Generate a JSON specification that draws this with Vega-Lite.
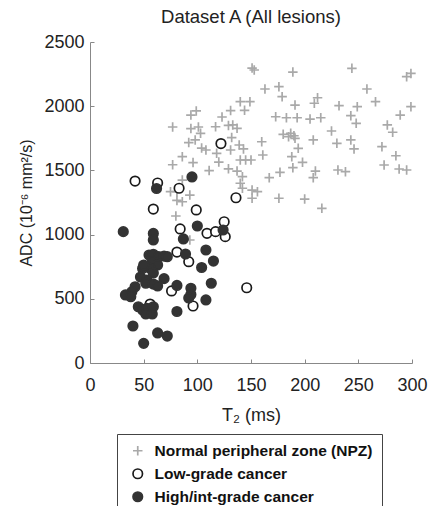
{
  "$schema": "https://vega.github.io/schema/vega-lite/v6.json",
  "width": 322,
  "height": 321,
  "autosize": {"type": "none"},
  "padding": {"left": 90, "top": 42, "right": 19, "bottom": 143},
  "background": "white",
  "title": {"text": "Dataset A (All lesions)", "fontSize": 18.5, "fontWeight": "normal", "font": "Liberation Sans", "color": "#222", "offset": 7, "anchor": "middle"},
  "config": {"view": {"stroke": null}, "font": "Liberation Sans"},
  "data": {"values": [
    {"g": "Normal peripheral zone (NPZ)", "t2": 151, "adc": 2297},
    {"g": "Normal peripheral zone (NPZ)", "t2": 153, "adc": 2282},
    {"g": "Normal peripheral zone (NPZ)", "t2": 189, "adc": 2266},
    {"g": "Normal peripheral zone (NPZ)", "t2": 244, "adc": 2295},
    {"g": "Normal peripheral zone (NPZ)", "t2": 295, "adc": 2230},
    {"g": "Normal peripheral zone (NPZ)", "t2": 299, "adc": 2255},
    {"g": "Normal peripheral zone (NPZ)", "t2": 163, "adc": 2134},
    {"g": "Normal peripheral zone (NPZ)", "t2": 176, "adc": 2152},
    {"g": "Normal peripheral zone (NPZ)", "t2": 179, "adc": 2074},
    {"g": "Normal peripheral zone (NPZ)", "t2": 191, "adc": 2009},
    {"g": "Normal peripheral zone (NPZ)", "t2": 212, "adc": 2066},
    {"g": "Normal peripheral zone (NPZ)", "t2": 209, "adc": 2023},
    {"g": "Normal peripheral zone (NPZ)", "t2": 232, "adc": 2004},
    {"g": "Normal peripheral zone (NPZ)", "t2": 258, "adc": 2134},
    {"g": "Normal peripheral zone (NPZ)", "t2": 266, "adc": 2035},
    {"g": "Normal peripheral zone (NPZ)", "t2": 249, "adc": 1996},
    {"g": "Normal peripheral zone (NPZ)", "t2": 299, "adc": 1996},
    {"g": "Normal peripheral zone (NPZ)", "t2": 173, "adc": 1918},
    {"g": "Normal peripheral zone (NPZ)", "t2": 183, "adc": 1910},
    {"g": "Normal peripheral zone (NPZ)", "t2": 193, "adc": 1910},
    {"g": "Normal peripheral zone (NPZ)", "t2": 205, "adc": 1900},
    {"g": "Normal peripheral zone (NPZ)", "t2": 215, "adc": 1910},
    {"g": "Normal peripheral zone (NPZ)", "t2": 243, "adc": 1926},
    {"g": "Normal peripheral zone (NPZ)", "t2": 248, "adc": 1867},
    {"g": "Normal peripheral zone (NPZ)", "t2": 289, "adc": 1931},
    {"g": "Normal peripheral zone (NPZ)", "t2": 277, "adc": 1854},
    {"g": "Normal peripheral zone (NPZ)", "t2": 282, "adc": 1797},
    {"g": "Normal peripheral zone (NPZ)", "t2": 225, "adc": 1807},
    {"g": "Normal peripheral zone (NPZ)", "t2": 180, "adc": 1781},
    {"g": "Normal peripheral zone (NPZ)", "t2": 187, "adc": 1789},
    {"g": "Normal peripheral zone (NPZ)", "t2": 190, "adc": 1770},
    {"g": "Normal peripheral zone (NPZ)", "t2": 185, "adc": 1762},
    {"g": "Normal peripheral zone (NPZ)", "t2": 191, "adc": 1750},
    {"g": "Normal peripheral zone (NPZ)", "t2": 160, "adc": 1723},
    {"g": "Normal peripheral zone (NPZ)", "t2": 208, "adc": 1737},
    {"g": "Normal peripheral zone (NPZ)", "t2": 230, "adc": 1711},
    {"g": "Normal peripheral zone (NPZ)", "t2": 243, "adc": 1737},
    {"g": "Normal peripheral zone (NPZ)", "t2": 246, "adc": 1667},
    {"g": "Normal peripheral zone (NPZ)", "t2": 272, "adc": 1685},
    {"g": "Normal peripheral zone (NPZ)", "t2": 285, "adc": 1614},
    {"g": "Normal peripheral zone (NPZ)", "t2": 194, "adc": 1672},
    {"g": "Normal peripheral zone (NPZ)", "t2": 161, "adc": 1620},
    {"g": "Normal peripheral zone (NPZ)", "t2": 188, "adc": 1607},
    {"g": "Normal peripheral zone (NPZ)", "t2": 198, "adc": 1563},
    {"g": "Normal peripheral zone (NPZ)", "t2": 189, "adc": 1521},
    {"g": "Normal peripheral zone (NPZ)", "t2": 177, "adc": 1485},
    {"g": "Normal peripheral zone (NPZ)", "t2": 210, "adc": 1495},
    {"g": "Normal peripheral zone (NPZ)", "t2": 208, "adc": 1443},
    {"g": "Normal peripheral zone (NPZ)", "t2": 231, "adc": 1503},
    {"g": "Normal peripheral zone (NPZ)", "t2": 238, "adc": 1490},
    {"g": "Normal peripheral zone (NPZ)", "t2": 274, "adc": 1542},
    {"g": "Normal peripheral zone (NPZ)", "t2": 288, "adc": 1511},
    {"g": "Normal peripheral zone (NPZ)", "t2": 295, "adc": 1503},
    {"g": "Normal peripheral zone (NPZ)", "t2": 167, "adc": 1443},
    {"g": "Normal peripheral zone (NPZ)", "t2": 156, "adc": 1334},
    {"g": "Normal peripheral zone (NPZ)", "t2": 176, "adc": 1283},
    {"g": "Normal peripheral zone (NPZ)", "t2": 200, "adc": 1277},
    {"g": "Normal peripheral zone (NPZ)", "t2": 216, "adc": 1205},
    {"g": "Normal peripheral zone (NPZ)", "t2": 140, "adc": 2035},
    {"g": "Normal peripheral zone (NPZ)", "t2": 149, "adc": 2035},
    {"g": "Normal peripheral zone (NPZ)", "t2": 144, "adc": 1968},
    {"g": "Normal peripheral zone (NPZ)", "t2": 131, "adc": 1966},
    {"g": "Normal peripheral zone (NPZ)", "t2": 123, "adc": 1916},
    {"g": "Normal peripheral zone (NPZ)", "t2": 94, "adc": 1931},
    {"g": "Normal peripheral zone (NPZ)", "t2": 99, "adc": 1963},
    {"g": "Normal peripheral zone (NPZ)", "t2": 77, "adc": 1838},
    {"g": "Normal peripheral zone (NPZ)", "t2": 94, "adc": 1826},
    {"g": "Normal peripheral zone (NPZ)", "t2": 101, "adc": 1838},
    {"g": "Normal peripheral zone (NPZ)", "t2": 103, "adc": 1789},
    {"g": "Normal peripheral zone (NPZ)", "t2": 117, "adc": 1840},
    {"g": "Normal peripheral zone (NPZ)", "t2": 129, "adc": 1850},
    {"g": "Normal peripheral zone (NPZ)", "t2": 137, "adc": 1828},
    {"g": "Normal peripheral zone (NPZ)", "t2": 133, "adc": 1854},
    {"g": "Normal peripheral zone (NPZ)", "t2": 92, "adc": 1717},
    {"g": "Normal peripheral zone (NPZ)", "t2": 98, "adc": 1737},
    {"g": "Normal peripheral zone (NPZ)", "t2": 104, "adc": 1674},
    {"g": "Normal peripheral zone (NPZ)", "t2": 108, "adc": 1659},
    {"g": "Normal peripheral zone (NPZ)", "t2": 132, "adc": 1756},
    {"g": "Normal peripheral zone (NPZ)", "t2": 139, "adc": 1698},
    {"g": "Normal peripheral zone (NPZ)", "t2": 143, "adc": 1667},
    {"g": "Normal peripheral zone (NPZ)", "t2": 131, "adc": 1659},
    {"g": "Normal peripheral zone (NPZ)", "t2": 118, "adc": 1633},
    {"g": "Normal peripheral zone (NPZ)", "t2": 86, "adc": 1607},
    {"g": "Normal peripheral zone (NPZ)", "t2": 77, "adc": 1544},
    {"g": "Normal peripheral zone (NPZ)", "t2": 96, "adc": 1561},
    {"g": "Normal peripheral zone (NPZ)", "t2": 120, "adc": 1565},
    {"g": "Normal peripheral zone (NPZ)", "t2": 129, "adc": 1512},
    {"g": "Normal peripheral zone (NPZ)", "t2": 137, "adc": 1495},
    {"g": "Normal peripheral zone (NPZ)", "t2": 140, "adc": 1581},
    {"g": "Normal peripheral zone (NPZ)", "t2": 145, "adc": 1581},
    {"g": "Normal peripheral zone (NPZ)", "t2": 150, "adc": 1581},
    {"g": "Normal peripheral zone (NPZ)", "t2": 111, "adc": 1499},
    {"g": "Normal peripheral zone (NPZ)", "t2": 142, "adc": 1451},
    {"g": "Normal peripheral zone (NPZ)", "t2": 140, "adc": 1400},
    {"g": "Normal peripheral zone (NPZ)", "t2": 142, "adc": 1361},
    {"g": "Normal peripheral zone (NPZ)", "t2": 151, "adc": 1347},
    {"g": "Normal peripheral zone (NPZ)", "t2": 151, "adc": 1283},
    {"g": "Normal peripheral zone (NPZ)", "t2": 86, "adc": 1425},
    {"g": "Normal peripheral zone (NPZ)", "t2": 75, "adc": 1334},
    {"g": "Normal peripheral zone (NPZ)", "t2": 81, "adc": 1334},
    {"g": "Normal peripheral zone (NPZ)", "t2": 93, "adc": 1308},
    {"g": "Normal peripheral zone (NPZ)", "t2": 81, "adc": 1266},
    {"g": "Normal peripheral zone (NPZ)", "t2": 86, "adc": 1256},
    {"g": "Normal peripheral zone (NPZ)", "t2": 80, "adc": 1145},
    {"g": "Normal peripheral zone (NPZ)", "t2": 93, "adc": 958},
    {"g": "Low-grade cancer", "t2": 42, "adc": 1417},
    {"g": "Low-grade cancer", "t2": 63, "adc": 1402},
    {"g": "Low-grade cancer", "t2": 59, "adc": 1199},
    {"g": "Low-grade cancer", "t2": 83, "adc": 1361},
    {"g": "Low-grade cancer", "t2": 84, "adc": 1044},
    {"g": "Low-grade cancer", "t2": 81, "adc": 864},
    {"g": "Low-grade cancer", "t2": 92, "adc": 789},
    {"g": "Low-grade cancer", "t2": 99, "adc": 1192},
    {"g": "Low-grade cancer", "t2": 76, "adc": 561},
    {"g": "Low-grade cancer", "t2": 96, "adc": 444},
    {"g": "Low-grade cancer", "t2": 56, "adc": 459},
    {"g": "Low-grade cancer", "t2": 136, "adc": 1287},
    {"g": "Low-grade cancer", "t2": 109, "adc": 1010},
    {"g": "Low-grade cancer", "t2": 117, "adc": 1023},
    {"g": "Low-grade cancer", "t2": 125, "adc": 1100},
    {"g": "Low-grade cancer", "t2": 126, "adc": 984},
    {"g": "Low-grade cancer", "t2": 146, "adc": 586},
    {"g": "Low-grade cancer", "t2": 122, "adc": 1709},
    {"g": "High/int-grade cancer", "t2": 31, "adc": 1023},
    {"g": "High/int-grade cancer", "t2": 62, "adc": 1359},
    {"g": "High/int-grade cancer", "t2": 95, "adc": 1449},
    {"g": "High/int-grade cancer", "t2": 59, "adc": 1009},
    {"g": "High/int-grade cancer", "t2": 59, "adc": 958},
    {"g": "High/int-grade cancer", "t2": 87, "adc": 966},
    {"g": "High/int-grade cancer", "t2": 100, "adc": 1067},
    {"g": "High/int-grade cancer", "t2": 124, "adc": 1036},
    {"g": "High/int-grade cancer", "t2": 55, "adc": 841},
    {"g": "High/int-grade cancer", "t2": 59, "adc": 847},
    {"g": "High/int-grade cancer", "t2": 64, "adc": 828},
    {"g": "High/int-grade cancer", "t2": 69, "adc": 833},
    {"g": "High/int-grade cancer", "t2": 72, "adc": 828},
    {"g": "High/int-grade cancer", "t2": 58, "adc": 789},
    {"g": "High/int-grade cancer", "t2": 63, "adc": 763},
    {"g": "High/int-grade cancer", "t2": 56, "adc": 738},
    {"g": "High/int-grade cancer", "t2": 59, "adc": 701},
    {"g": "High/int-grade cancer", "t2": 49, "adc": 736},
    {"g": "High/int-grade cancer", "t2": 47, "adc": 670},
    {"g": "High/int-grade cancer", "t2": 53, "adc": 646},
    {"g": "High/int-grade cancer", "t2": 89, "adc": 849},
    {"g": "High/int-grade cancer", "t2": 104, "adc": 744},
    {"g": "High/int-grade cancer", "t2": 69, "adc": 657},
    {"g": "High/int-grade cancer", "t2": 52, "adc": 621},
    {"g": "High/int-grade cancer", "t2": 59, "adc": 615},
    {"g": "High/int-grade cancer", "t2": 63, "adc": 600},
    {"g": "High/int-grade cancer", "t2": 42, "adc": 594},
    {"g": "High/int-grade cancer", "t2": 39, "adc": 555},
    {"g": "High/int-grade cancer", "t2": 33, "adc": 530},
    {"g": "High/int-grade cancer", "t2": 38, "adc": 516},
    {"g": "High/int-grade cancer", "t2": 81, "adc": 604},
    {"g": "High/int-grade cancer", "t2": 94, "adc": 582},
    {"g": "High/int-grade cancer", "t2": 94, "adc": 533},
    {"g": "High/int-grade cancer", "t2": 92, "adc": 506},
    {"g": "High/int-grade cancer", "t2": 45, "adc": 438},
    {"g": "High/int-grade cancer", "t2": 49, "adc": 413},
    {"g": "High/int-grade cancer", "t2": 53, "adc": 426},
    {"g": "High/int-grade cancer", "t2": 52, "adc": 382},
    {"g": "High/int-grade cancer", "t2": 58, "adc": 382},
    {"g": "High/int-grade cancer", "t2": 59, "adc": 438},
    {"g": "High/int-grade cancer", "t2": 81, "adc": 401},
    {"g": "High/int-grade cancer", "t2": 40, "adc": 288},
    {"g": "High/int-grade cancer", "t2": 63, "adc": 234},
    {"g": "High/int-grade cancer", "t2": 72, "adc": 210},
    {"g": "High/int-grade cancer", "t2": 50, "adc": 153},
    {"g": "High/int-grade cancer", "t2": 108, "adc": 880},
    {"g": "High/int-grade cancer", "t2": 115, "adc": 794},
    {"g": "High/int-grade cancer", "t2": 113, "adc": 621},
    {"g": "High/int-grade cancer", "t2": 108, "adc": 491},
    {"g": "High/int-grade cancer", "t2": 50, "adc": 763}
  ]},
  "mark": {"type": "point", "size": 90, "strokeWidth": 1.7, "opacity": 1},
  "encoding": {
    "x": {
      "field": "t2", "type": "quantitative",
      "scale": {"domain": [0, 300], "nice": false, "zero": false},
      "axis": {
        "title": "T₂ (ms)", "values": [0, 50, 100, 150, 200, 250, 300], "format": "d",
        "grid": false, "labelFontSize": 18, "labelColor": "#222", "labelFont": "Liberation Sans",
        "titleFontSize": 18, "titleFontWeight": "normal", "titleColor": "#222", "titleFont": "Liberation Sans",
        "domainColor": "#888", "tickColor": "#888", "tickSize": -4, "labelPadding": 17, "titlePadding": 12,
        "labelFlush": false
      }
    },
    "y": {
      "field": "adc", "type": "quantitative",
      "scale": {"domain": [0, 2500], "nice": false, "zero": false},
      "axis": {
        "title": "ADC (10⁻⁶ mm²/s)", "values": [0, 500, 1000, 1500, 2000, 2500], "format": "d",
        "grid": false, "labelFontSize": 18, "labelColor": "#222", "labelFont": "Liberation Sans",
        "titleFontSize": 16, "titleFontWeight": "normal", "titleColor": "#222", "titleFont": "Liberation Sans",
        "domainColor": "#888", "tickColor": "#888", "tickSize": -4, "labelPadding": 10, "titlePadding": 9,
        "labelFlush": false
      }
    },
    "shape": {
      "field": "g", "type": "nominal",
      "scale": {"domain": ["Normal peripheral zone (NPZ)", "Low-grade cancer", "High/int-grade cancer"], "range": ["M-1,0H1M0,-1V1", "circle", "circle"]},
      "legend": {
        "orient": "none", "legendX": 27, "legendY": 392, "title": null,
        "labelFont": "Liberation Sans", "labelFontSize": 15.5, "labelFontWeight": "bold", "labelColor": "#111", "labelLimit": 0,
        "padding": 9, "strokeColor": "#444", "fillColor": "white", "rowPadding": 5,
        "symbolSize": 90, "symbolStrokeWidth": 1.7, "labelOffset": 9, "symbolOffset": 4
      }
    },
    "fill": {
      "field": "g", "type": "nominal",
      "scale": {"domain": ["Normal peripheral zone (NPZ)", "Low-grade cancer", "High/int-grade cancer"], "range": ["transparent", "#ffffff", "#333333"]}
    },
    "stroke": {
      "field": "g", "type": "nominal",
      "scale": {"domain": ["Normal peripheral zone (NPZ)", "Low-grade cancer", "High/int-grade cancer"], "range": ["#a9a9a9", "#1a1a1a", "#333333"]}
    }
  }
}
